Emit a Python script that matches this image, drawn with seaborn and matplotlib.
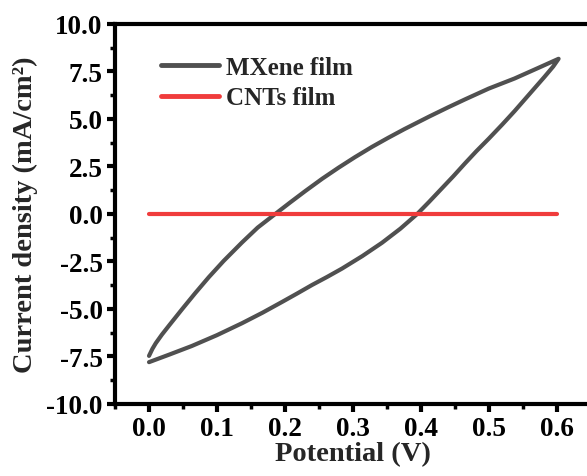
import matplotlib
matplotlib.use("Agg")
import matplotlib.pyplot as plt
import seaborn as sns
import pandas as pd
from matplotlib.ticker import MultipleLocator

# MXene film CV loop: forward (upper) branch then reverse (lower) branch
mx_fwd_x = [0.000, 0.005, 0.010, 0.019, 0.030, 0.049, 0.068, 0.088, 0.110, 0.137,
            0.160, 0.186, 0.207, 0.230, 0.255, 0.279, 0.303, 0.328, 0.352, 0.376,
            0.413, 0.440, 0.465, 0.500, 0.538, 0.570, 0.603]
mx_fwd_y = [-7.47, -7.10, -6.80, -6.35, -5.85, -5.00, -4.17, -3.33, -2.47, -1.50,
            -0.72, 0.00, 0.58, 1.20, 1.85, 2.43, 2.98, 3.52, 4.00, 4.46,
            5.13, 5.60, 6.02, 6.59, 7.12, 7.63, 8.16]
mx_rev_x = [0.595, 0.582, 0.560, 0.538, 0.520, 0.500, 0.482, 0.465, 0.448, 0.430,
            0.412, 0.395, 0.370, 0.343, 0.314, 0.284, 0.262, 0.240, 0.218, 0.196,
            0.167, 0.137, 0.100, 0.063, 0.030, 0.000]
mx_rev_y = [7.75, 7.20, 6.30, 5.40, 4.70, 3.95, 3.30, 2.65, 1.98, 1.30,
            0.62, 0.00, -0.78, -1.52, -2.22, -2.88, -3.32, -3.74, -4.19, -4.63,
            -5.20, -5.75, -6.38, -6.95, -7.40, -7.80]

# CNTs film
cnt_x = [0.0, 0.1, 0.2, 0.3, 0.4, 0.5, 0.6]
cnt_y = [0.0, 0.0, 0.0, 0.0, 0.0, 0.0, 0.0]

series_names = ["MXene film", "CNTs film"]
colors = ["#505050", "#f03c3c"]

x_ticks = [0.0, 0.1, 0.2, 0.3, 0.4, 0.5, 0.6]
y_ticks = [-10.0, -7.5, -5.0, -2.5, 0.0, 2.5, 5.0, 7.5, 10.0]

sns.set_theme(style="ticks")
plt.rcParams["font.family"] = ["Liberation Serif", "DejaVu Serif"]
plt.rcParams["font.weight"] = "bold"

mx = pd.DataFrame({"x": mx_fwd_x + mx_rev_x, "y": mx_fwd_y + mx_rev_y})
cnt = pd.DataFrame({"x": cnt_x, "y": cnt_y})

fig = plt.figure(figsize=(5.87, 4.77), dpi=100)
ax = fig.add_axes([0.196, 0.151, 0.81, 0.797])

sns.lineplot(data=mx, x="x", y="y", sort=False, estimator=None, ax=ax,
             color=colors[0], linewidth=3.0, label=series_names[0],
             solid_capstyle="round", solid_joinstyle="round")
sns.lineplot(data=cnt, x="x", y="y", sort=False, estimator=None, ax=ax,
             color=colors[1], linewidth=3.0, label=series_names[1],
             solid_capstyle="round")

ax.set_xlim(-0.05, 0.65)
ax.set_ylim(-10, 10)
ax.set_xticks(x_ticks)
ax.set_yticks(y_ticks)
ax.set_xticklabels([f"{v:.1f}" for v in x_ticks])
ax.set_yticklabels([f"{v:.1f}" for v in y_ticks])
ax.xaxis.set_minor_locator(MultipleLocator(0.05))
ax.yaxis.set_minor_locator(MultipleLocator(1.25))

for s in ax.spines.values():
    s.set_linewidth(3.0)
    s.set_color("black")

ax.tick_params(axis="both", which="major", direction="out", length=6, width=3,
               labelsize=19.5, colors="black", pad=3)
ax.tick_params(axis="both", which="minor", direction="out", length=3.5, width=2.5,
               colors="black")
ax.tick_params(top=False, right=False, which="both")
for lab in ax.get_xticklabels() + ax.get_yticklabels():
    lab.set_fontweight("bold")

ax.set_xlabel("Potential (V)", fontsize=20.5, fontweight="bold", labelpad=0)
ax.set_ylabel("Current density (mA/cm²)", fontsize=20.5, fontweight="bold", labelpad=6)

leg = ax.legend(loc="upper left", frameon=False, handlelength=2.3,
                handletextpad=0.3, labelspacing=0.3,
                bbox_to_anchor=(0.05, 0.975), prop={"weight": "bold", "size": 18})
for line in leg.get_lines():
    line.set_linewidth(3.5)

fig.savefig("out.png", dpi=100)
